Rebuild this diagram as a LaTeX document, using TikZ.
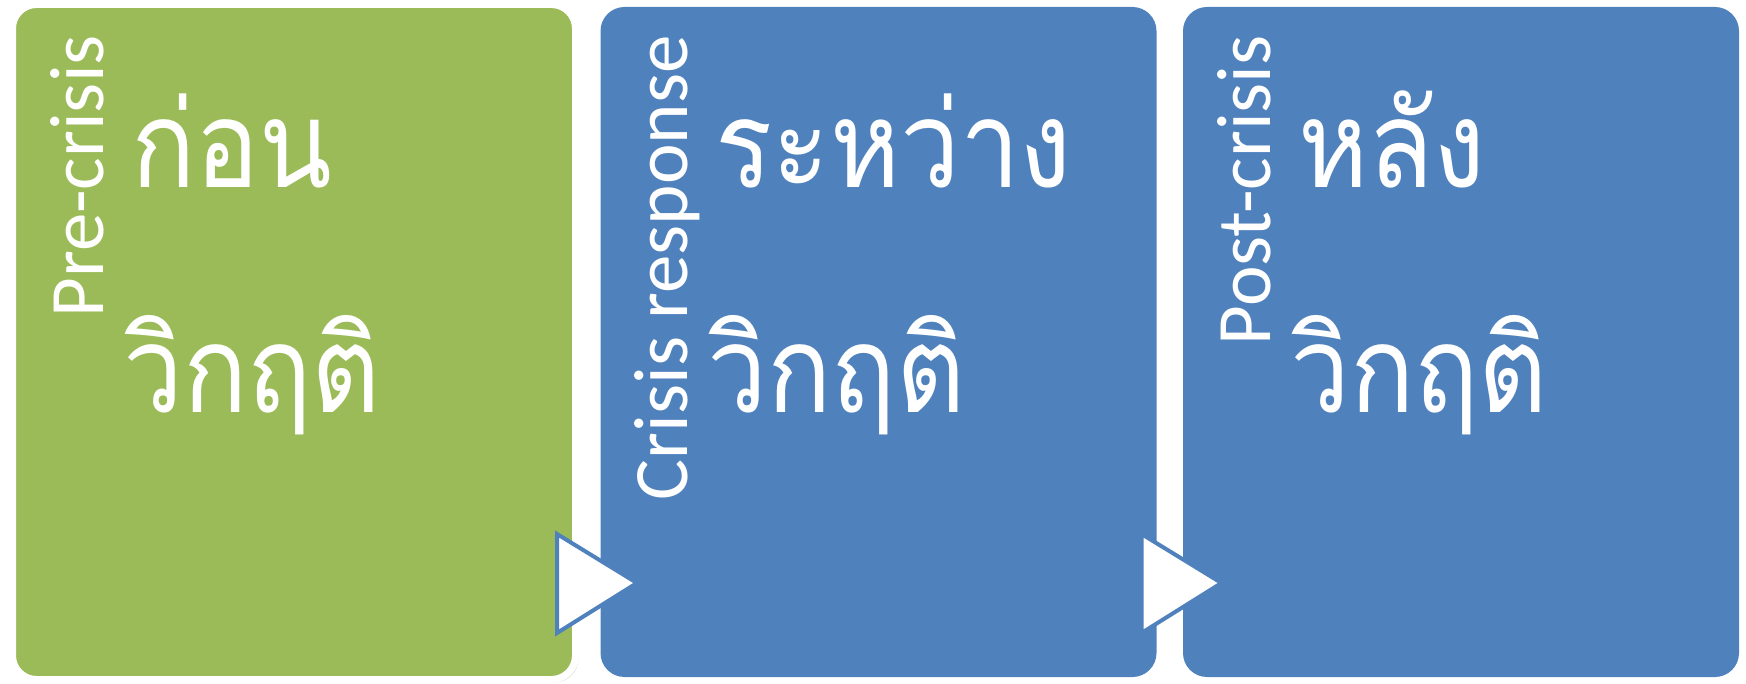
\documentclass[tikz,border=0pt]{standalone}
\usepackage{fontspec}
\newfontfamily\latfont{Carlito}
\newfontfamily\thaifont[Script=Thai, FakeStretch=0.88]{Loma}
\usetikzlibrary{shadows}

\definecolor{leafgreen}{HTML}{9BBB59}
\definecolor{stepblue}{HTML}{4F81BD}

\tikzset{
  box/.style={rectangle, rounded corners=24pt, minimum width=556pt,
    minimum height=670pt, inner sep=0pt},
  eng/.style={rotate=90, anchor=base east, inner sep=0pt, text=white,
    font=\latfont\fontsize{77}{92}\selectfont},
  thai/.style={anchor=base west, inner sep=0pt, text=white,
    font=\thaifont\fontsize{121}{150}\selectfont},
  tri/.style={draw=stepblue, fill=white, line width=4pt}
}

\begin{document}
\begin{tikzpicture}[x=1pt,y=1pt]

  \useasboundingbox (0,0) rectangle (1746,-684);

  % the three stages
  \node[box, fill=stepblue] (2) at (878.5,-342) {};
  \node[box, fill=stepblue] (3) at (1461,-342) {};
  \node[box, fill=leafgreen, draw=white, line width=7pt,
    minimum width=563pt, minimum height=675pt,
    drop shadow={opacity=.25, shadow xshift=3pt, shadow yshift=-3pt}] (1) at (294,-342) {};

  % labels
  \node[eng]  (e1) at ([xshift=-191pt, yshift=307pt]1.center) {Pre-crisis};
  \node[thai] (t1) at ([xshift=-163pt, yshift=154pt]1.center) {ก่อน};
  \node[thai] (w1) at ([xshift=-8pt, yshift=-225pt]t1.base west) {วิกฤติ};

  \node[eng]  (e2) at ([xshift=-191pt, yshift=307pt]2.center) {Crisis response};
  \node[thai] (t2) at ([xshift=-163pt, yshift=154pt]2.center) {ระหว่าง};
  \node[thai] (w2) at ([xshift=-8pt, yshift=-225pt]t2.base west) {วิกฤติ};

  \node[eng]  (e3) at ([xshift=-191pt, yshift=307pt]3.center) {Post-crisis};
  \node[thai] (t3) at ([xshift=-163pt, yshift=154pt]3.center) {หลัง};
  \node[thai] (w3) at ([xshift=-8pt, yshift=-225pt]t3.base west) {วิกฤติ};

  % arrows between stages
  \filldraw[tri] (557,-534) -- (637,-583) -- (557,-633) -- cycle;
  \filldraw[tri] (1141.5,-534) -- (1221.5,-583) -- (1141.5,-633) -- cycle;

\end{tikzpicture}
\end{document}
